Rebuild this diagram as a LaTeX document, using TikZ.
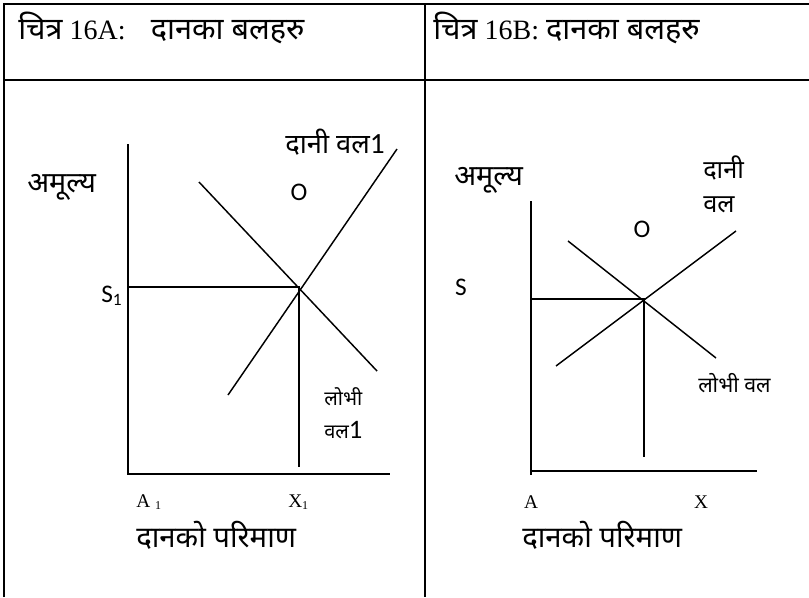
\documentclass[tikz,border=0pt]{standalone}
\usepackage{fontspec}
\setmainfont{Liberation Serif}
\newfontfamily\deva[Script=Devanagari]{Noto Sans}
\newfontfamily\carl{Carlito}
\newfontfamily\tms{Liberation Serif}
\newcommand{\fsz}[1]{\fontsize{#1}{#1}\selectfont}
\begin{document}
\begin{tikzpicture}[x=0.75pt,y=-0.75pt,
  frame/.style={line width=1.5pt},
  curve/.style={line width=1.1pt},
  lbl/.style={inner sep=0pt, anchor=west},
  clbl/.style={inner sep=0pt, anchor=center}]
\useasboundingbox (0,0) rectangle (809,597);
% table frame
\coordinate (tl) at (4,4);
\coordinate (tr) at (809,4);
\coordinate (bl) at (4,597);
\coordinate (ml) at (4,80);
\coordinate (mr) at (809,80);
\coordinate (dt) at (425,4);
\coordinate (db) at (425,597);
\draw[frame] (bl) -- (tl) -- (tr);
\draw[frame] (ml) -- (mr);
\draw[frame] (dt) -- (db);
% titles
\node[lbl] (titA) at (18,28) {\fsz{21}{\fsz{23}\deva चित्र} 16A:\hspace{0.9em}{\fsz{23}\deva दानका बलहरु}};
\node[lbl] (titB) at (433,28) {\fsz{21}{\fsz{23}\deva चित्र} 16B: {\fsz{23}\deva दानका बलहरु}};
% ---------- diagram A ----------
\coordinate (aTop) at (128,144);
\coordinate (aO) at (128,474);
\coordinate (aEnd) at (390,474);
\coordinate (aE) at (299,287);
\coordinate (aS) at (128,287);
\coordinate (aX) at (299,467);
\coordinate (aD1) at (199,182);
\coordinate (aD2) at (377,371);
\coordinate (aS1) at (228,395);
\coordinate (aS2) at (397,149);
\draw[curve] (aTop) -- (aO) -- (aEnd);
\draw[curve] (aS) -- (aE) -- (aX);
\draw[curve] (aD1) -- (aD2);
\draw[curve] (aS1) -- (aS2);
\node[lbl] (aY) at (27,187) {\fsz{21.5}\deva अमूल्य};
\node[lbl] (aSup) at (285,142) {{\fsz{20.5}\deva दानी वल}{\fsz{22}\carl 1}};
\node[clbl] (aOl) at (299,192) {\fsz{19}\carl O};
\node[lbl] (aSl) at (101,296) {\fsz{19}\carl S{\fsz{13}\raisebox{-2pt}{1}}};
\node[lbl] (aDem1) at (324,397) {\fsz{15}\deva लोभी};
\node[lbl] (aDem2) at (324,430) {{\fsz{15}\deva वल}{\fsz{20}\carl 1}};
\node[lbl] (aAl) at (136,502) {\fsz{14.5}\tms A {\fsz{9}\raisebox{-1.5pt}{1}}};
\node[lbl] (aXl) at (288,502) {\fsz{14.5}\tms X{\fsz{9}\raisebox{-1.5pt}{1}}};
\node[lbl] (aQ) at (136,535) {\fsz{22}\deva दानको परिमाण};
% ---------- diagram B ----------
\coordinate (bTop) at (531,201);
\coordinate (bO) at (531,471);
\coordinate (bBot) at (531,475);
\coordinate (bEnd) at (757,471);
\coordinate (bE) at (644,299);
\coordinate (bS) at (531,299);
\coordinate (bX) at (644,457);
\coordinate (bD1) at (568,241);
\coordinate (bD2) at (716,358);
\coordinate (bS1) at (556,366);
\coordinate (bS2) at (736,231);
\draw[curve] (bTop) -- (bBot);
\draw[curve] (bO) -- (bEnd);
\draw[curve] (bS) -- (bE) -- (bX);
\draw[curve] (bD1) -- (bD2);
\draw[curve] (bS1) -- (bS2);
\node[lbl] (bY) at (454,180) {\fsz{21.5}\deva अमूल्य};
\node[lbl] (bSup1) at (703,168) {\fsz{19}\deva दानी};
\node[lbl] (bSup2) at (703,205) {\fsz{19}\deva वल};
\node[clbl] (bOl) at (642,229) {\fsz{19}\carl O};
\node[clbl] (bSl) at (461,287) {\fsz{19}\carl S};
\node[lbl] (bDem) at (698,383) {\fsz{16}\deva लोभी वल};
\node[clbl] (bAl) at (531,502) {\fsz{14.5}\tms A};
\node[clbl] (bXl) at (701,502) {\fsz{14.5}\tms X};
\node[lbl] (bQ) at (522,535) {\fsz{22}\deva दानको परिमाण};
\end{tikzpicture}
\end{document}
